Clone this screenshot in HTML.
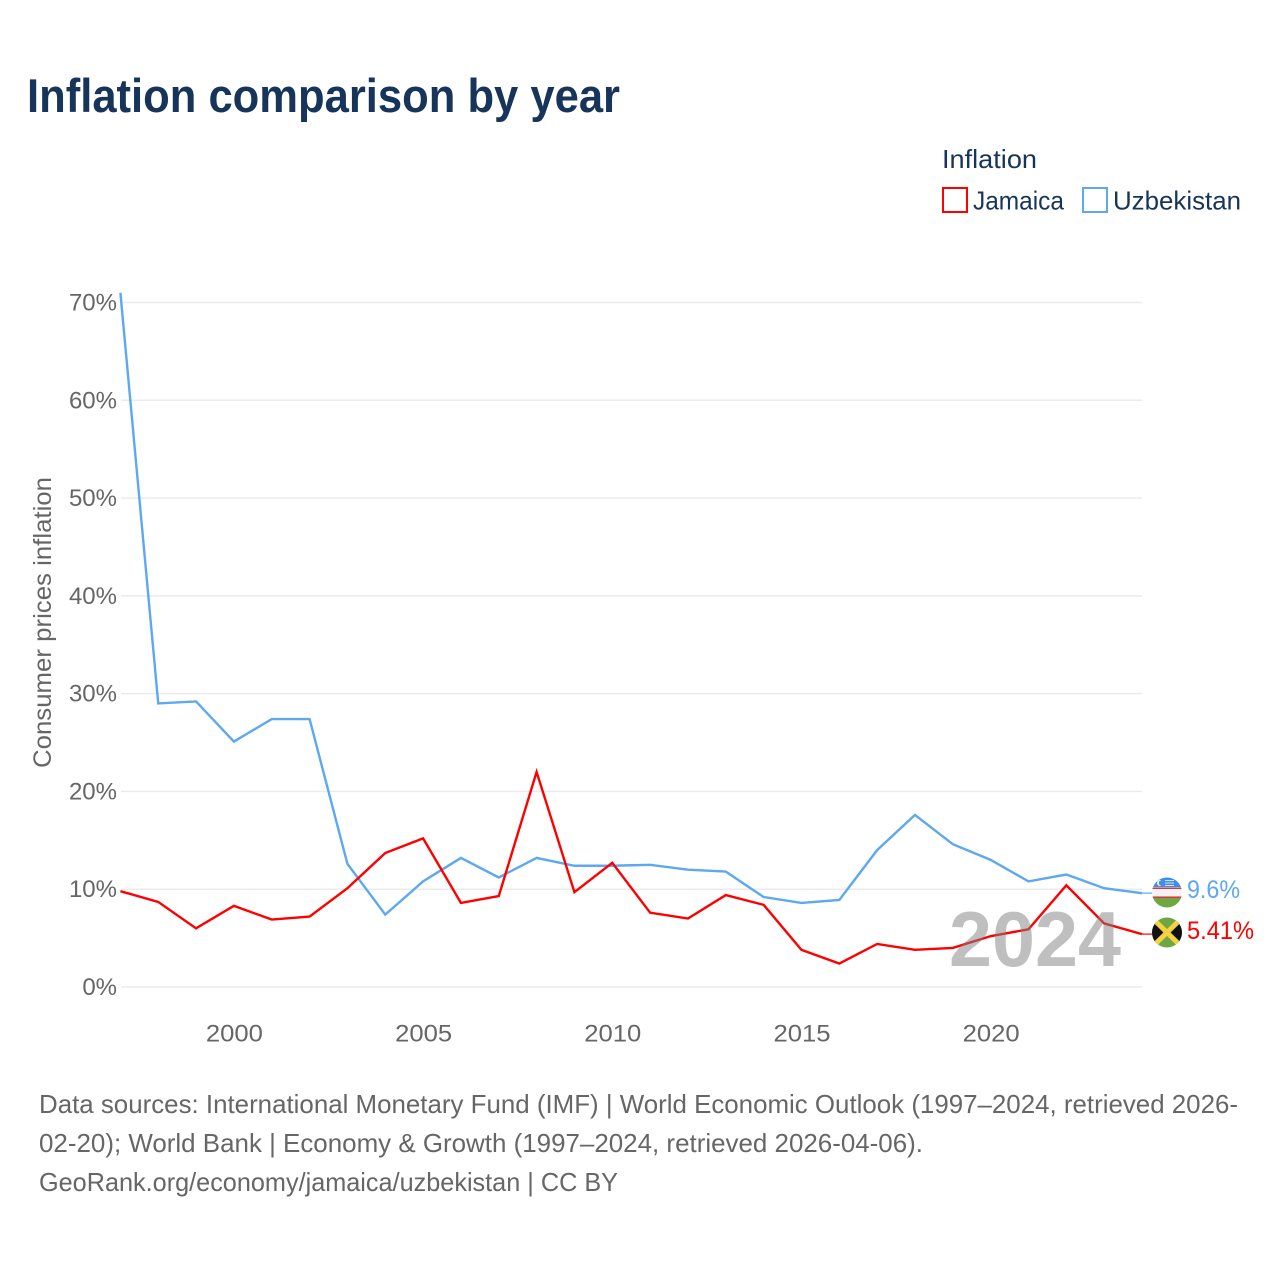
<!DOCTYPE html>
<html lang="en">
<head>
<meta charset="utf-8">
<title>Inflation comparison by year</title>
<style>
html,body{margin:0;padding:0;background:#fff;}
svg{display:block;font-family:"Liberation Sans",sans-serif;}
</style>
</head>
<body>
<svg id="chart" xmlns="http://www.w3.org/2000/svg" width="1280" height="1280" viewBox="0 0 1280 1280">
  <defs>
    <clipPath id="clip-uz"><circle cx="1167" cy="892.5" r="15"/></clipPath>
    <clipPath id="clip-jm"><circle cx="1167" cy="932.5" r="15"/></clipPath>
  </defs>
  <rect width="1280" height="1280" fill="#fff"/>
  <text x="27" y="112" font-size="47" font-weight="700" fill="#17345a" textLength="593" lengthAdjust="spacingAndGlyphs">Inflation comparison by year</text>

  <g>
    <text x="942" y="168" font-size="26" fill="#17345a" textLength="95" lengthAdjust="spacingAndGlyphs">Inflation</text>
    <g>
      <rect x="943" y="188" width="24" height="24" fill="none" stroke="#ff0000" stroke-width="2"/>
      <text x="973" y="209.5" font-size="26" fill="#17345a" textLength="91" lengthAdjust="spacingAndGlyphs">Jamaica</text>
    </g>
    <g>
      <rect x="1083" y="188" width="24" height="24" fill="none" stroke="#5da8f0" stroke-width="2"/>
      <text x="1113" y="209.5" font-size="26" fill="#17345a" textLength="128" lengthAdjust="spacingAndGlyphs">Uzbekistan</text>
    </g>
  </g>

  <g id="grid"></g>
  <g id="yticks"></g>
  <g id="xticks"></g>
  <text transform="translate(51,768) rotate(-90)" font-size="25" fill="#666666" textLength="291" lengthAdjust="spacingAndGlyphs">Consumer prices inflation</text>

  <g id="series"></g>

  <text x="949" y="966" font-size="78" font-weight="700" fill="#808080" fill-opacity="0.5" textLength="172" lengthAdjust="spacingAndGlyphs">2024</text>

  <g clip-path="url(#clip-uz)">
    <rect x="1150" y="876" width="34" height="11" fill="#3f8fe8"/>
    <rect x="1150" y="887" width="34" height="11" fill="#f3f3f3"/>
    <rect x="1150" y="887.5" width="34" height="1.4" fill="#d8232a"/>
    <rect x="1150" y="896.5" width="34" height="1.4" fill="#d8232a"/>
    <rect x="1150" y="898" width="34" height="12" fill="#6fa644"/>
    <circle cx="1160" cy="883" r="3" fill="#fff"/>
    <circle cx="1161.3" cy="883" r="2.6" fill="#3f8fe8"/>
    <rect x="1165" y="880" width="9" height="1" fill="#cfe3fa"/>
    <rect x="1165" y="882.5" width="9" height="1" fill="#cfe3fa"/>
    <rect x="1165" y="885" width="9" height="1" fill="#cfe3fa"/>
  </g>
  <g clip-path="url(#clip-jm)">
    <rect x="1150" y="916" width="34" height="34" fill="#6fa644"/>
    <polygon points="1150,916 1167,932.5 1150,949" fill="#111"/>
    <polygon points="1184,916 1167,932.5 1184,949" fill="#111"/>
    <line x1="1150" y1="916" x2="1184" y2="949" stroke="#f5d33f" stroke-width="5"/>
    <line x1="1184" y1="916" x2="1150" y2="949" stroke="#f5d33f" stroke-width="5"/>
  </g>
  <text id="end-uz" x="1187" y="898" font-size="25" fill="#5da8f0" textLength="53" lengthAdjust="spacingAndGlyphs"></text>
  <text id="end-jm" x="1187" y="939" font-size="25" fill="#ff0000" textLength="67" lengthAdjust="spacingAndGlyphs"></text>

  <g font-size="26" fill="#666666">
    <text x="39" y="1113" textLength="1199" lengthAdjust="spacingAndGlyphs">Data sources: International Monetary Fund (IMF) | World Economic Outlook (1997–2024, retrieved 2026-</text>
    <text x="39" y="1152" textLength="884" lengthAdjust="spacingAndGlyphs">02-20); World Bank | Economy &amp; Growth (1997–2024, retrieved 2026-04-06).</text>
    <text x="39" y="1191" textLength="579" lengthAdjust="spacingAndGlyphs">GeoRank.org/economy/jamaica/uzbekistan | CC BY</text>
  </g>
</svg>
<script>
var years = [1997,1998,1999,2000,2001,2002,2003,2004,2005,2006,2007,2008,2009,2010,2011,2012,2013,2014,2015,2016,2017,2018,2019,2020,2021,2022,2023,2024];
var jamaica = [9.8,8.7,6.0,8.3,6.9,7.2,10.1,13.7,15.2,8.6,9.3,22.0,9.7,12.7,7.6,7.0,9.4,8.4,3.8,2.4,4.4,3.8,4.0,5.2,5.9,10.4,6.5,5.41];
var uzbekistan = [71.0,29.0,29.2,25.1,27.4,27.4,12.6,7.4,10.8,13.2,11.2,13.2,12.4,12.4,12.5,12.0,11.8,9.2,8.6,8.9,14.0,17.6,14.6,13.0,10.8,11.5,10.1,9.6];
var yTickValues = [0,10,20,30,40,50,60,70];
var xTickValues = [2000,2005,2010,2015,2020];

var NS = 'http://www.w3.org/2000/svg';
function xScale(year){ return 120.4 + (year - 1997) * (1142 - 120.4) / 27; }
function yScale(value){ return 987 - value * (987 - 302.5) / 70; }
function make(tag, attrs, parent){
  var el = document.createElementNS(NS, tag);
  for (var k in attrs) el.setAttribute(k, attrs[k]);
  parent.appendChild(el);
  return el;
}

var grid = document.getElementById('grid');
var yticks = document.getElementById('yticks');
var xticks = document.getElementById('xticks');
var seriesGroup = document.getElementById('series');

yTickValues.forEach(function(v){
  var line = make('line', {x1:121, x2:1142, y1:yScale(v), y2:yScale(v), stroke:'#ebebeb', 'stroke-width':1.5}, grid);
  
  
  var label = make('text', {x:117, y:yScale(v)+8, 'text-anchor':'end', 'font-size':24, fill:'#666666'}, yticks);
  label.textContent = v + '%';
  
  
});

xTickValues.forEach(function(y){
  var label = make('text', {x:xScale(y)+0.5, y:1041.5, 'text-anchor':'middle', 'font-size':24, fill:'#666666', textLength:57, lengthAdjust:'spacingAndGlyphs'}, xticks);
  label.textContent = String(y);
  
  
});

function drawSeries(values, color){
  var pts = values.map(function(v, i){ return xScale(years[i]).toFixed(2) + ',' + yScale(v).toFixed(2); }).join(' ');
  return make('polyline', {points:pts, fill:'none', stroke:color, 'stroke-width':2.4, 'stroke-linejoin':'miter'}, seriesGroup);
}
var uzLine = drawSeries(uzbekistan, '#5da8f0');


var jmLine = drawSeries(jamaica, '#ff0000');



var lastI = years.length - 1;
var uzConn = make('line', {x1:xScale(years[lastI]), y1:yScale(uzbekistan[lastI]), x2:1152, y2:yScale(uzbekistan[lastI]), stroke:'#5da8f0', 'stroke-width':1.2}, seriesGroup);


var jmConn = make('line', {x1:xScale(years[lastI]), y1:yScale(jamaica[lastI]), x2:1152, y2:yScale(jamaica[lastI]), stroke:'#ff0000', 'stroke-width':1.2}, seriesGroup);



document.getElementById('end-uz').textContent = uzbekistan[lastI] + '%';
document.getElementById('end-jm').textContent = jamaica[lastI] + '%';
</script>
</body>
</html>
